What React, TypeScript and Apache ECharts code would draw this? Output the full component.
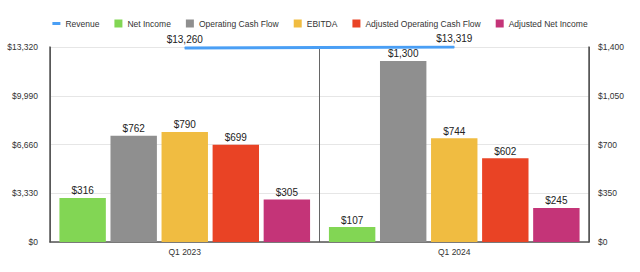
import React, { useEffect, useRef } from "react";
import * as echarts from "echarts";

const categories = ["Q1 2023", "Q1 2024"];
const revenue = [13260, 13319];
const netIncome = [316, 107];
const operatingCashFlow = [762, 1300];
const ebitda = [790, 744];
const adjustedOCF = [699, 602];
const adjustedNetIncome = [305, 245];

const leftTicks = { min: 0, max: 13320, interval: 3330 };
const rightTicks = { min: 0, max: 1400, interval: 350 };

const fmt = (v: number) => "$" + v.toLocaleString("en-US");

export default function App() {
  const ref = useRef<HTMLDivElement>(null);
  useEffect(() => {
    const chart = echarts.init(ref.current!, null, { renderer: "svg" });
    const barLabel = {
      show: true,
      position: "top" as const,
      fontSize: 10,
      distance: 2,
      color: "#222",
      formatter: (p: any) => fmt(p.value),
    };
    const bar = (name: string, data: number[], color: string) => ({
      name,
      type: "bar",
      yAxisIndex: 1,
      data,
      itemStyle: { color },
      label: barLabel,
      barGap: "10%",
      barCategoryGap: "7%",
    });
    chart.setOption({
      animation: false,
      textStyle: { fontFamily: "Liberation Sans, Arial, sans-serif" },
      legend: {
        top: 14,
        left: "center",
        itemWidth: 8,
        itemHeight: 8,
        itemGap: 15,
        textStyle: { fontSize: 8.5, color: "#333" },
        data: [
          { name: "Revenue", icon: "path://M0,0h8v3h-8z", itemStyle: { color: "#4a9ff5" } },
          { name: "Net Income", icon: "rect" },
          { name: "Operating Cash Flow", icon: "rect" },
          { name: "EBITDA", icon: "rect" },
          { name: "Adjusted Operating Cash Flow", icon: "rect" },
          { name: "Adjusted Net Income", icon: "rect" },
        ],
      },
      grid: { left: 50, right: 51, top: 47, bottom: 30 },
      xAxis: {
        type: "category",
        data: categories,
        boundaryGap: true,
        axisLine: { lineStyle: { color: "#555", width: 1.5 } },
        axisTick: { show: false },
        splitLine: { show: true, lineStyle: { color: "#666", width: 1 } },
        axisLabel: { fontSize: 8.5, color: "#333", margin: 5 },
      },
      yAxis: [
        {
          type: "value",
          ...leftTicks,
          position: "left",
          axisLine: { show: true, lineStyle: { color: "#555", width: 1.5 } },
          axisTick: { show: false },
          splitLine: { lineStyle: { color: "#e6e6e6", width: 1 } },
          axisLabel: { fontSize: 8.5, color: "#333", formatter: (v: number) => fmt(v), margin: 12 },
        },
        {
          type: "value",
          ...rightTicks,
          position: "right",
          axisLine: { show: true, lineStyle: { color: "#555", width: 1.5 } },
          axisTick: { show: false },
          splitLine: { show: false },
          axisLabel: { fontSize: 8.5, color: "#333", formatter: (v: number) => fmt(v), margin: 9 },
        },
      ],
      series: [
        {
          name: "Revenue",
          type: "line",
          yAxisIndex: 0,
          data: revenue,
          symbol: "circle",
          symbolSize: 1,
          showSymbol: true,
          lineStyle: { color: "#4a9ff5", width: 3 },
          itemStyle: { color: "#4a9ff5" },
          label: {
            show: true,
            position: "top",
            fontSize: 10,
            color: "#222",
            distance: 3,
            formatter: (p: any) => fmt(p.value),
          },
          z: 5,
        },
        bar("Net Income", netIncome, "#82d654"),
        bar("Operating Cash Flow", operatingCashFlow, "#8f8f8f"),
        bar("EBITDA", ebitda, "#f0bc41"),
        bar("Adjusted Operating Cash Flow", adjustedOCF, "#e94325"),
        bar("Adjusted Net Income", adjustedNetIncome, "#c43478"),
      ],
    });
    return () => chart.dispose();
  }, []);
  return <div ref={ref} style={{ width: 640, height: 272, position: "absolute", left: 0, top: 0 }} />;
}
